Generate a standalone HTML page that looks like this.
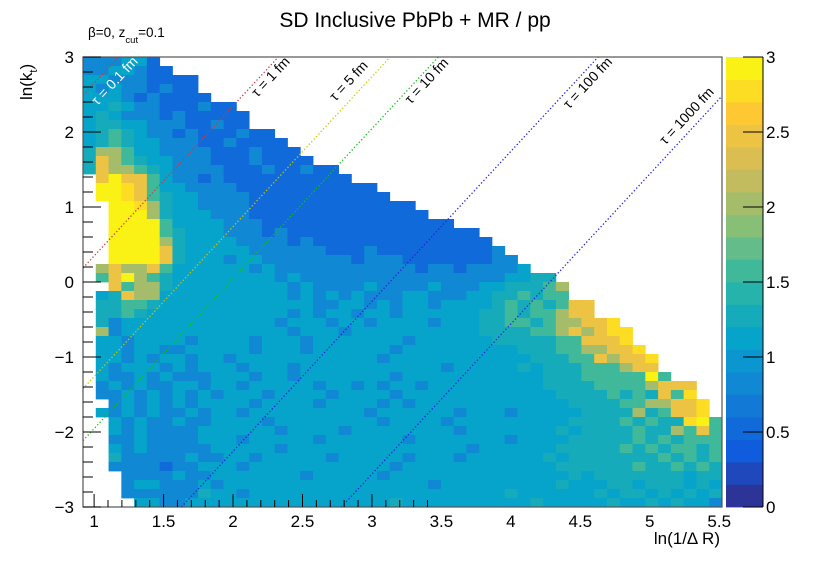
<!DOCTYPE html>
<html><head><meta charset="utf-8">
<style>
html,body{margin:0;padding:0;background:#fff;}
svg{display:block;font-family:"Liberation Sans",Arial,sans-serif;}
</style></head>
<body>
<svg id="chart" width="830" height="563" viewBox="0 0 830 563" xmlns="http://www.w3.org/2000/svg">
  <rect x="0" y="0" width="830" height="563" fill="#fff"/>
  <text x="415" y="27" font-size="21" text-anchor="middle" fill="#000">SD Inclusive PbPb + MR / pp</text>
  <text x="88" y="37" font-size="13.5" fill="#000">β=0, z<tspan font-size="9.5" dy="6">cut</tspan><tspan dy="-6">=0.1</tspan></text>
  <g id="cells"></g>
  <g id="taulines"></g>
  <rect x="83" y="57" width="639" height="450" fill="none" stroke="#555" stroke-width="1.2"/>
  <g id="axes"></g>
  <g id="cbar"></g>
  <text x="720" y="544" font-size="17" text-anchor="end" fill="#000">ln(1/Δ R)</text>
  <text transform="translate(32,100) rotate(-90)" font-size="17" fill="#000">ln(k<tspan font-size="11" dy="5">t</tspan><tspan dy="-5">)</tspan></text>
</svg>
<script>
// ---- data ----
const xMin = 0.92, xMax = 5.52, nX = 50;
const yMin = -3, yMax = 3, nY = 50;
const levelValues = {'1':0.35,'2':0.55,'3':0.85,'4':1.05,'5':1.3,'6':1.6,'7':2.0,'8':2.4,'9':2.75,'Y':3.0};
// first filled row (from top) for each x column
const topRow = [0,0,0,0,0,0,1,2,2,4,5,5,6,8,8,9,10,11,12,12,13,14,14,15,16,16,17,18,18,19,19,20,21,22,23,24,24,25,27,27,29,29,30,32,33,35,36,36,38,40];
const gridRows = [
"3334422222",
"3344322222",
"4433322222",
"4343323222",
"4443232222",
"445433222322",
"4543332322222",
"4554433322322",
"456543323222322",
"4565443332232222",
"57764433332223222",
"587654433322232222",
"58776543333222322322",
".8Y8864332 3222222222 2",
".YY9864433 3322222222 222",
".YY9865443 3332222222 2222",
"..YY975443 3332222222 222222",
"..YYY75444 3332222222 2222222",
"..YYYY6444 4333222222 222222222",
"..YYYY6544 4333232222 2222222222 2",
"..YYYY7544 4433332322 2222222222 22",
"..YYYY8544 4443333332 2232222222 223",
"..YYYY8544 4344333333 3233322222 2233",
".787786444 4443433333 3333332332 33334",
".68Y765444 4444434333 3333333333 3334455",
"..86775444 4444443433 3343333433 34455567",
".458774444 4444443434 3433344333 44556566",
".556654444 4444444433 4434344344 4456565688",
".556544444 4444443434 4344344444 4556566788",
".534444444 4444434443 4434444344 4556656778 89",
".734444444 4444443444 3444444444 4555566787 899",
".443444434 4443444344 4444434444 4455555668 889",
".443443344 4443444344 4444344444 4444555667 7889",
".443434434 4344444444 4443444444 4444455566 87889",
".434443434 4434443444 4444444434 4444545556 66788",
".433434333 4443443444 4444344444 4444445556 6666Y6",
".343433443 4434444434 4343443444 4444445555 66667888",
".334343434 3444344443 4444344444 4444444555 56565869",
"..34343434 4443444434 4443434444 4444444455 556677889",
".434343343 4434444444 4434444443 4443444445 555756889",
"..43433433 4444344444 4443444434 4444444455 55656559Y6",
"..43433334 4444434444 3444444443 4444444545 5556557686",
"..33433334 4434444434 4444434444 4443444455 5556565666",
"..43433333 4444434444 4444444444 3444444555 5565656656",
"..53333343 3443444443 4444434443 4444445455 5555565656",
"..33332334 4434444444 4444344444 4444444555 5556556565",
"...3333433 4444444344 4443444444 4444444454 5555555455",
"...3443334 3444444444 4444444344 4444444544 4554555454",
"...3333335 4434444444 4444444444 4445444444 5455454545",
"....443344 4444444444 4444544444 4444454444 4544545443"
];
const tauValues = [0.1, 1, 5, 10, 100, 1000];
const tauLabels = ["τ = 0.1 fm","τ = 1 fm","τ = 5 fm","τ = 10 fm","τ = 100 fm","τ = 1000 fm"];
const tauColors = ["#c83c3c","#c83c3c","#c8c800","#10c010","#2020e0","#2020e0"];
const tauLabelPos = [[118,84,"#fff"],[274,80,"#000"],[352,84,"#000"],[430,84,"#000"],[591,86,"#000"],[690,119,"#000"]];
const xTickLabels = ["1","1.5","2","2.5","3","3.5","4","4.5","5","5.5"];
const yTickLabels = ["−3","−2","−1","0","1","2","3"];
const zTickLabels = ["0","0.5","1","1.5","2","2.5","3"];

// ---- scales ----
const L=83,R=722,T=57,B=507;
const sx = v => L + (v - xMin) / (xMax - xMin) * (R - L);
const sy = v => B - (v - yMin) / (yMax - yMin) * (B - T);
const NS = "http://www.w3.org/2000/svg";
const stops = [[0.2082,0.1664,0.5293],[0.0592,0.3599,0.8684],[0.0780,0.5041,0.8385],[0.0232,0.6419,0.7914],[0.1802,0.7178,0.6425],[0.5301,0.7492,0.4662],[0.8186,0.7328,0.3499],[0.9956,0.7862,0.1968],[0.9764,0.9832,0.0539]];
function bird(f){
  f=Math.max(0,Math.min(1,f));
  const p=f*8, i=Math.min(7,Math.floor(p)), t=p-i;
  const c=stops[i].map((a,k)=>Math.round(255*(a+(stops[i+1][k]-a)*t)));
  return `rgb(${c[0]},${c[1]},${c[2]})`;
}
function zColor(v){
  const band=Math.min(19,Math.floor(v/0.15));
  return bird((band+0.5)/20);
}
function mk(tag, attrs, parent){
  const e=document.createElementNS(NS,tag);
  for(const k in attrs) e.setAttribute(k,attrs[k]);
  parent.appendChild(e); return e;
}

// ---- cells ----
const cells=document.getElementById('cells');
const dx=(xMax-xMin)/nX, dy=(yMax-yMin)/nY;
gridRows.forEach((rowRaw,r)=>{
  const row=rowRaw.replace(/ /g,'');
  for(let c=0;c<nX;c++){
    if(r<topRow[c]) continue;
    let ch = c<row.length ? row[c] : row[row.length-1];
    if(ch==='.') continue;
    const v=levelValues[ch];
    const x0=sx(xMin+c*dx), x1=sx(xMin+(c+1)*dx);
    const y0=sy(yMax-r*dy), y1=sy(yMax-(r+1)*dy);
    const el=mk('rect',{x:x0.toFixed(2),y:y0.toFixed(2),width:(x1-x0+0.4).toFixed(2),height:(y1-y0+0.4).toFixed(2),fill:zColor(v)},cells);
    
    
  }
});

// ---- tau lines: ln kt = 2x + ln(0.197/tau) - 0.028 ----
const tl=document.getElementById('taulines');
tauValues.forEach((tau,i)=>{
  const c=Math.log(0.197/tau)-0.028;
  let xa=xMin, ya=2*xa+c;
  if(ya<yMin){ya=yMin; xa=(ya-c)/2;}
  let xb=xMax, yb=2*xb+c;
  if(yb>yMax){yb=yMax; xb=(yb-c)/2;}
  const ln=mk('line',{x1:sx(xa),y1:sy(ya),x2:sx(xb),y2:sy(yb),stroke:tauColors[i],'stroke-width':1.3,'stroke-dasharray':'1.3 2.2'},tl);
  
  
  const p=tauLabelPos[i];
  const t=mk('text',{x:p[0],y:p[1],'font-size':14,'text-anchor':'middle',fill:p[2],transform:`rotate(-47 ${p[0]} ${p[1]})`},tl);
  t.textContent=tauLabels[i];
  
  
});

// ---- axes ----
const ax=document.getElementById('axes');
for(let k=0;k<=25;k++){
  const v=0.9+k*0.1+1e-9; if(v<xMin||v>xMax) continue;
  const major=Math.abs(v*2-Math.round(v*2))<1e-6;
  const t=mk('line',{x1:sx(v),x2:sx(v),y1:B,y2:B-(major?13:7),stroke:'#000','stroke-width':1},ax);
  
  
}
xTickLabels.forEach(s=>{
  const t=mk('text',{x:sx(parseFloat(s)),y:527,'font-size':17,'text-anchor':'middle',fill:'#000'},ax);
  t.textContent=s;
  
  
});
for(let k=0;k<=30;k++){
  const v=-3+k*0.2;
  const major=k%5===0;
  const t=mk('line',{x1:L,x2:L+(major?18:10),y1:sy(v),y2:sy(v),stroke:'#000','stroke-width':1},ax);
  
  
}
yTickLabels.forEach((s,i)=>{
  const v=-3+i;
  const t=mk('text',{x:74,y:sy(v)+6,'font-size':17,'text-anchor':'end',fill:'#000'},ax);
  t.textContent=s;
  
  
});

// ---- color bar ----
const cb=document.getElementById('cbar');
const CL=726, CR=763;
for(let b=0;b<20;b++){
  const y0=T+(B-T)*(1-(b+1)/20), h=(B-T)/20;
  const r=mk('rect',{x:CL,y:y0,width:CR-CL,height:h+0.4,fill:bird((b+0.5)/20)},cb);
  
  
}
const cbl=mk('line',{x1:CR,x2:CR,y1:T,y2:B,stroke:'#000','stroke-width':1},cb);


zTickLabels.forEach(s=>{
  const v=parseFloat(s), y=B-(B-T)*v/3;
  const t=mk('line',{x1:CR-20,x2:CR,y1:y,y2:y,stroke:'#000','stroke-width':1},cb);
  
  
  const tx=mk('text',{x:CR+3,y:y+6,'font-size':17,fill:'#000'},cb);
  tx.textContent=s;
  
  
});
</script>
</body></html>
